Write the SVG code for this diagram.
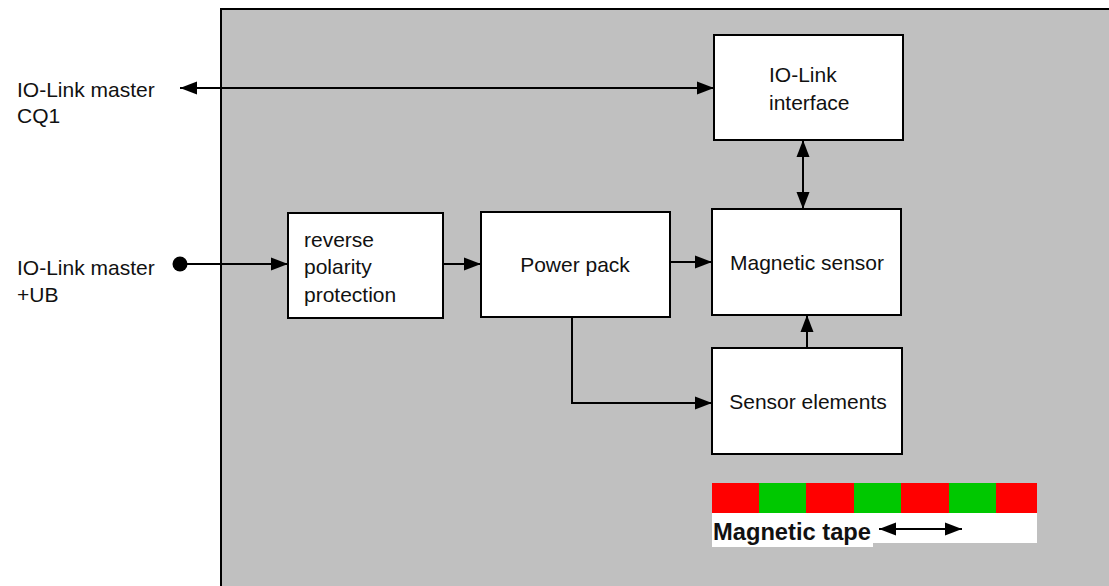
<svg xmlns="http://www.w3.org/2000/svg" width="1109" height="586" viewBox="0 0 1109 586">
<style>
.t{font-family:"Liberation Sans",Arial,sans-serif;font-size:21px;fill:#111}
.b{fill:#fff;stroke:#000;stroke-width:2}
.c{fill:none;stroke:#000;stroke-width:2}
</style>
<defs>
<marker id="ah" markerUnits="userSpaceOnUse" markerWidth="17" markerHeight="14" refX="17" refY="7" orient="auto-start-reverse">
<path d="M0,0.5 L17,7 L0,13.5 z" fill="#000"/>
</marker>
</defs>
<rect width="1109" height="586" fill="#fff"/>
<g id="housing">
<rect x="221" y="9" width="898" height="590" fill="#c0c0c0" stroke="#000" stroke-width="2"/>
</g>
<g id="labels-left">
<text class="t" x="17" y="97">IO-Link master</text>
<text class="t" x="17" y="123">CQ1</text>
<text class="t" x="17" y="275">IO-Link master</text>
<text class="t" x="17" y="302">+UB</text>
</g>
<g id="io-link-interface">
<rect class="b" x="714" y="35" width="189" height="105"/>
<text class="t" x="769" y="82">IO-Link</text>
<text class="t" x="769" y="110">interface</text>
</g>
<g id="reverse-polarity">
<rect class="b" x="288" y="213" width="155" height="105"/>
<text class="t" x="304" y="247">reverse</text>
<text class="t" x="304" y="274">polarity</text>
<text class="t" x="304" y="302">protection</text>
</g>
<g id="power-pack">
<rect class="b" x="481" y="212" width="189" height="105"/>
<text class="t" x="575" y="272" text-anchor="middle">Power pack</text>
</g>
<g id="magnetic-sensor">
<rect class="b" x="712" y="209" width="189" height="106"/>
<text class="t" x="807" y="270" text-anchor="middle">Magnetic sensor</text>
</g>
<g id="sensor-elements">
<rect class="b" x="712" y="348" width="190" height="106"/>
<text class="t" x="808" y="409" text-anchor="middle">Sensor elements</text>
</g>
<g id="magnetic-tape">
<rect x="712" y="513" width="325" height="30" fill="#fff"/>
<rect x="712" y="513" width="161" height="34" fill="#fff"/>
<rect x="712" y="483" width="47" height="30" fill="#f00"/>
<rect x="759" y="483" width="47" height="30" fill="#00c800"/>
<rect x="806" y="483" width="48" height="30" fill="#f00"/>
<rect x="854" y="483" width="47" height="30" fill="#00c800"/>
<rect x="901" y="483" width="48" height="30" fill="#f00"/>
<rect x="949" y="483" width="47" height="30" fill="#00c800"/>
<rect x="996" y="483" width="41" height="30" fill="#f00"/>
<text x="713" y="540" font-family="'Liberation Sans',Arial,sans-serif" font-size="23" font-weight="bold" fill="#111" textLength="158" lengthAdjust="spacingAndGlyphs">Magnetic tape</text>
<line class="c" x1="879" y1="529" x2="962" y2="529" marker-start="url(#ah)" marker-end="url(#ah)"/>
</g>
<g id="connectors">
<line class="c" x1="180" y1="88" x2="714" y2="88" marker-start="url(#ah)" marker-end="url(#ah)"/>
<circle cx="180" cy="264" r="7.5" fill="#000"/>
<line class="c" x1="180" y1="264" x2="288" y2="264" marker-end="url(#ah)"/>
<line class="c" x1="443" y1="264" x2="481" y2="264" marker-end="url(#ah)"/>
<line class="c" x1="670" y1="262" x2="712" y2="262" marker-end="url(#ah)"/>
<polyline class="c" points="572,317 572,403 712,403" marker-end="url(#ah)"/>
<line class="c" x1="807" y1="348" x2="807" y2="315" marker-end="url(#ah)"/>
<line class="c" x1="803" y1="140" x2="803" y2="209" marker-start="url(#ah)" marker-end="url(#ah)"/>
</g>
</svg>
